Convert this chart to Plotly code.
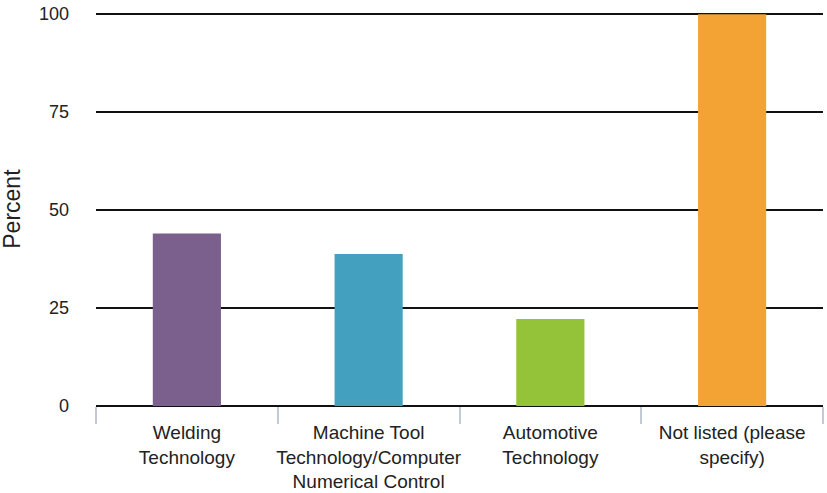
import plotly.graph_objects as go

# Survey results: share of respondents per program area
categories = [
    "Welding<br>Technology",
    "Machine Tool<br>Technology/Computer<br>Numerical Control",
    "Automotive<br>Technology",
    "Not listed (please<br>specify)",
]
percent = [44.0, 38.8, 22.2, 100.0]
bar_colors = ["#7B5F8D", "#43A1BF", "#94C33A", "#F2A333"]
y_ticks = [0, 25, 50, 75, 100]

font_family = "Liberation Sans, Arial, sans-serif"

fig = go.Figure(
    go.Bar(
        x=categories,
        y=percent,
        marker=dict(color=bar_colors, line=dict(width=0)),
        width=0.375,
        hoverinfo="x+y",
    )
)

fig.update_layout(
    width=827,
    height=493,
    margin=dict(l=96, r=4, t=13, b=87),
    paper_bgcolor="white",
    plot_bgcolor="white",
    showlegend=False,
    font=dict(family=font_family, size=18, color="#222222"),
)

fig.update_xaxes(
    type="category",
    tickson="boundaries",
    ticks="outside",
    ticklen=17,
    tickwidth=1.5,
    tickcolor="#c3cad6",
    showgrid=False,
    showline=False,
    tickangle=0,
    automargin=False,
    ticklabelstandoff=13,
    tickfont=dict(size=19, color="#222222"),
)

fig.update_yaxes(
    range=[0, 100.3],
    tickvals=y_ticks,
    ticktext=[str(v) for v in y_ticks],
    showgrid=True,
    gridcolor="#111111",
    gridwidth=1.6,
    zeroline=True,
    zerolinecolor="#111111",
    zerolinewidth=1.6,
    showline=False,
    ticks="",
    automargin=False,
    ticklabelstandoff=26,
    tickfont=dict(size=18, color="#222222"),
)

fig.add_annotation(
    text="Percent",
    xref="paper",
    yref="paper",
    x=-0.115,
    y=0.503,
    xanchor="center",
    yanchor="middle",
    textangle=-90,
    showarrow=False,
    font=dict(size=23, color="#222222", family=font_family),
)

fig.write_html("out.html")
